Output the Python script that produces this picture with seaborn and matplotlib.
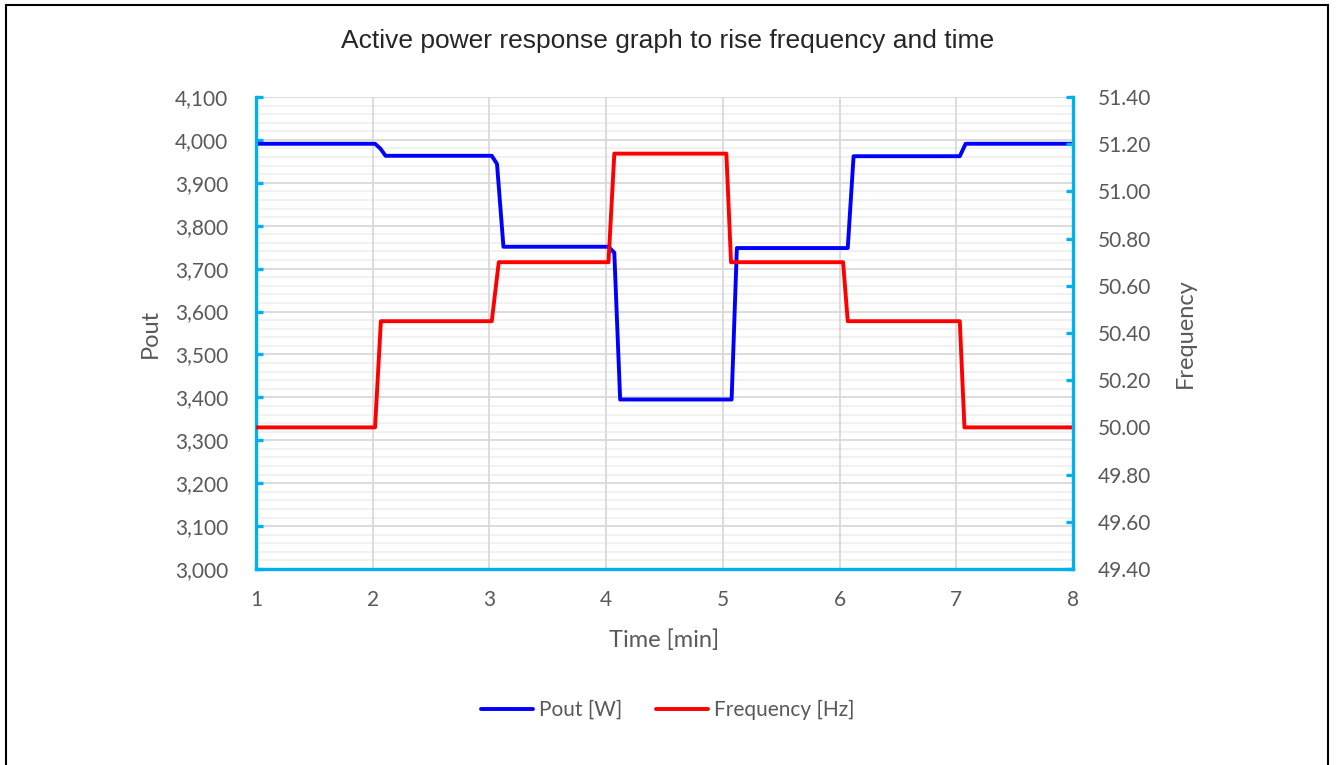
import pandas as pd
import seaborn as sns
import matplotlib.pyplot as plt
from matplotlib.ticker import MultipleLocator, FuncFormatter
from matplotlib.patches import Rectangle

# === Data ===
time_pout = [1.0, 2.02, 2.065, 2.11, 3.02, 3.065, 3.12, 4.02, 4.07, 4.12,
             5.075, 5.12, 6.07, 6.12, 7.03, 7.08, 8.0]
pout = [3991, 3991, 3980, 3963, 3963, 3944, 3751, 3751, 3737, 3395,
        3395, 3748, 3748, 3962, 3962, 3991, 3991]

time_freq = [1.0, 2.02, 2.07, 3.02, 3.08, 4.02, 4.07, 5.03, 5.07,
             6.03, 6.07, 7.03, 7.07, 8.0]
freq = [50.00, 50.00, 50.45, 50.45, 50.70, 50.70, 51.16, 51.16, 50.70,
        50.70, 50.45, 50.45, 50.00, 50.00]

df_pout = pd.DataFrame({"Time": time_pout, "Pout [W]": pout})
df_freq = pd.DataFrame({"Time": time_freq, "Frequency [Hz]": freq})

# === Style ===
sns.set_style("white")
plt.rcParams["font.family"] = ["Lato", "DejaVu Sans"]
AXIS_BLUE = "#00B0F0"
TEXT_GRAY = "#595959"

fig = plt.figure(figsize=(13.36, 7.65), dpi=100)
ax = fig.add_axes([256 / 1336, 1 - 569 / 765, 817 / 1336, 472 / 765])
ax2 = ax.twinx()

sns.lineplot(data=df_pout, x="Time", y="Pout [W]", ax=ax, color="#0000FF",
             linewidth=2.8, label="Pout [W]", legend=False)
sns.lineplot(data=df_freq, x="Time", y="Frequency [Hz]", ax=ax2, color="#FF0000",
             linewidth=2.8, label="Frequency [Hz]", legend=False)

# === Axes limits and ticks ===
ax.set_xlim(1, 8)
ax.set_ylim(3000, 4100)
ax2.set_ylim(49.4, 51.4)
ax.xaxis.set_major_locator(MultipleLocator(1))
ax.yaxis.set_major_locator(MultipleLocator(100))
ax.yaxis.set_minor_locator(MultipleLocator(20))
ax2.yaxis.set_major_locator(MultipleLocator(0.2))
ax.yaxis.set_major_formatter(FuncFormatter(lambda v, p: f"{v:,.0f}"))
ax2.yaxis.set_major_formatter(FuncFormatter(lambda v, p: f"{v:.2f}"))

# Gridlines (vertical ones drawn on top of the light minor lines)
ax.set_axisbelow(True)
ax.grid(True, which="major", axis="both", color="#D9D9D9", linewidth=1.3)
ax.grid(True, which="minor", axis="y", color="#F0F0F0", linewidth=1.3)
ax.yaxis.set_zorder(0.5)
ax.xaxis.set_zorder(0.6)

# Spines
for a in (ax, ax2):
    a.spines["top"].set_visible(False)
    for side in ("left", "right", "bottom"):
        a.spines[side].set_color(AXIS_BLUE)
        a.spines[side].set_linewidth(2.4)
ax.spines["right"].set_visible(False)
ax2.spines["left"].set_visible(False)
ax2.spines["bottom"].set_visible(False)

ax.tick_params(axis="both", which="major", direction="in", length=5, width=2.4,
               color=AXIS_BLUE, labelcolor=TEXT_GRAY, labelsize=15)
ax.tick_params(axis="y", which="major", pad=20)
ax.tick_params(axis="x", which="major", pad=15)
ax.tick_params(axis="y", which="minor", length=0)
ax2.tick_params(axis="y", which="major", direction="in", length=5, width=2.4,
                color=AXIS_BLUE, labelcolor=TEXT_GRAY, labelsize=15, pad=18)

# Labels
ax.set_xlabel("Time [min]", fontsize=17, color=TEXT_GRAY)
ax.xaxis.set_label_coords(0.5, -0.150)
ax.xaxis.label.set_va("center")
ax.set_ylabel("Pout", fontsize=17, color=TEXT_GRAY)
ax.yaxis.set_label_coords(-0.1297, 0.5)
ax.yaxis.label.set_va("center")
ax2.set_ylabel("Frequency", fontsize=17, color=TEXT_GRAY)
ax2.yaxis.set_label_coords(1.138, 0.5)
ax2.yaxis.label.set_va("center")

fig.suptitle("Active power response graph to rise frequency and time",
             fontsize=19, family=["Liberation Sans", "DejaVu Sans"],
             y=1 - 41 / 765, va="center")

# Legend below the plot
handles = ax.get_lines()[:1] + ax2.get_lines()[:1]
labels = ["Pout [W]", "Frequency [Hz]"]
leg = fig.legend(handles, labels, loc="center", bbox_to_anchor=(0.5, 1 - 710 / 765),
                 ncol=2, frameon=False, fontsize=15, handlelength=2.5,
                 handletextpad=0.3, columnspacing=1.6)
for t in leg.get_texts():
    t.set_color(TEXT_GRAY)

# Outer chart border
fig.patches.append(Rectangle((6 / 1336, -0.02), 1322 / 1336, 1.02 - 5 / 765,
                             transform=fig.transFigure, fill=False,
                             edgecolor="black", linewidth=1.5))

plt.savefig("out.png", dpi=100)
